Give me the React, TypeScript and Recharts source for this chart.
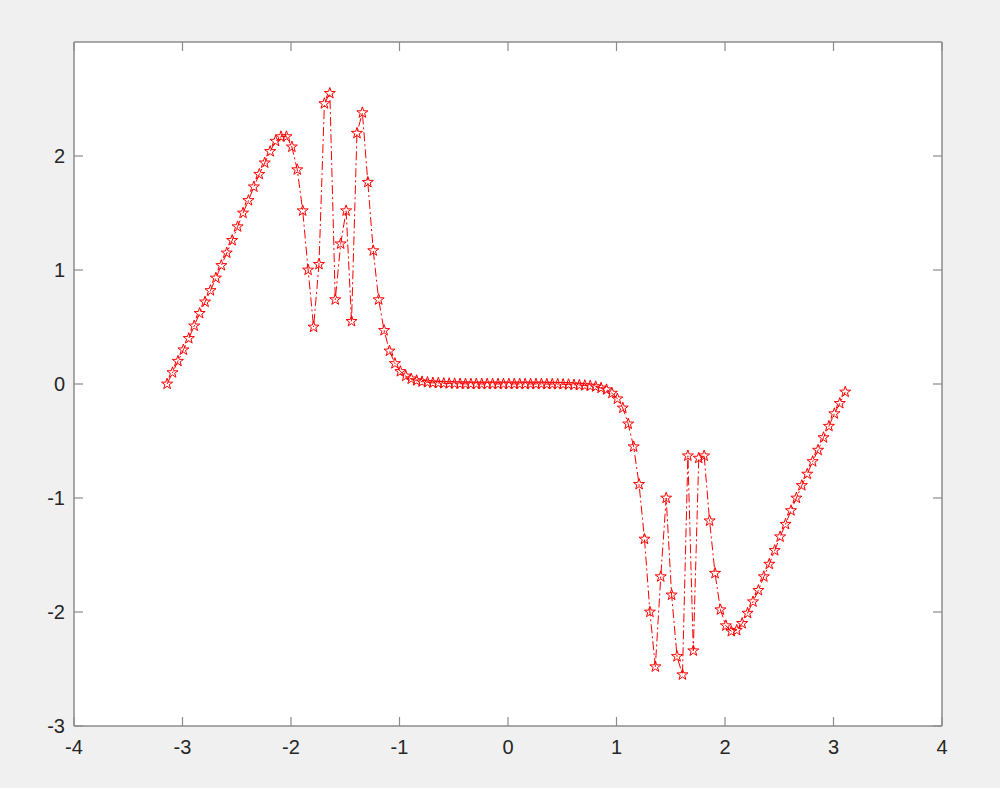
import { LineChart, Line, XAxis, YAxis, CartesianGrid } from "recharts";

// sample positions (x) and measured values (y)
const xs = [
  -3.142, -3.092, -3.042, -2.992, -2.942, -2.892, -2.842, -2.792, -2.742, -2.692,
  -2.642, -2.592, -2.542, -2.492, -2.442, -2.392, -2.342, -2.292, -2.242, -2.192,
  -2.142, -2.092, -2.042, -1.992, -1.942, -1.892, -1.842, -1.792, -1.742, -1.692,
  -1.642, -1.592, -1.542, -1.492, -1.442, -1.392, -1.342, -1.292, -1.242, -1.192,
  -1.142, -1.092, -1.042, -0.992, -0.942, -0.892, -0.842, -0.792, -0.742, -0.692,
  -0.642, -0.592, -0.542, -0.492, -0.442, -0.392, -0.342, -0.292, -0.242, -0.192,
  -0.142, -0.092, -0.042, 0.008, 0.058, 0.108, 0.158, 0.208, 0.258, 0.308,
  0.358, 0.408, 0.458, 0.508, 0.558, 0.608, 0.658, 0.708, 0.758, 0.808,
  0.858, 0.908, 0.958, 1.008, 1.058, 1.108, 1.158, 1.208, 1.258, 1.308,
  1.358, 1.408, 1.458, 1.508, 1.558, 1.608, 1.658, 1.708, 1.758, 1.808,
  1.858, 1.908, 1.958, 2.008, 2.058, 2.108, 2.158, 2.208, 2.258, 2.308,
  2.358, 2.408, 2.458, 2.508, 2.558, 2.608, 2.658, 2.708, 2.758, 2.808,
  2.858, 2.908, 2.958, 3.008, 3.058, 3.108,
];

const ys = [
  0, 0.1, 0.2, 0.3, 0.4, 0.51, 0.62, 0.72, 0.82, 0.93,
  1.04, 1.15, 1.26, 1.38, 1.5, 1.61, 1.73, 1.84, 1.94, 2.04,
  2.13, 2.17, 2.17, 2.08, 1.88, 1.52, 1.0, 0.5, 1.05, 2.46,
  2.55, 0.74, 1.23, 1.52, 0.55, 2.2, 2.38, 1.77, 1.17, 0.74,
  0.47, 0.29, 0.18, 0.11, 0.07, 0.045, 0.03, 0.02, 0.015, 0.01,
  0.008, 0.006, 0.004, 0.003, 0.002, 0.001, 0, 0, 0, 0,
  0, 0, 0, 0, 0, 0, 0, 0, 0, 0,
  -0.001, -0.001, -0.002, -0.003, -0.005, -0.007, -0.01, -0.013, -0.017, -0.023,
  -0.035, -0.05, -0.08, -0.13, -0.21, -0.35, -0.55, -0.88, -1.36, -2.0,
  -2.48, -1.69, -1.0, -1.85, -2.39, -2.55, -0.63, -2.34, -0.65, -0.63,
  -1.2, -1.66, -1.98, -2.12, -2.17, -2.16, -2.1, -2.01, -1.91, -1.81,
  -1.69, -1.58, -1.46, -1.34, -1.23, -1.11, -1.0, -0.89, -0.79, -0.68,
  -0.58, -0.47, -0.37, -0.26, -0.17, -0.07,
];

const xTicks = [-4, -3, -2, -1, 0, 1, 2, 3, 4];
const yTicks = [-3, -2, -1, 0, 1, 2];

const data = xs.map((x, i) => ({ x, y: ys[i] }));

const AXIS = "#8c8c8c";
const TXT = "#262626";

// matlab-style pentagram marker
function Star({ cx, cy }: { cx?: number; cy?: number }) {
  if (cx == null || cy == null) return null;
  const R = 5.8, r = 2.3;
  let d = "";
  for (let i = 0; i < 10; i++) {
    const a = -Math.PI / 2 + (i * Math.PI) / 5;
    const rad = i % 2 === 0 ? R : r;
    d += (i === 0 ? "M" : "L") + (cx + rad * Math.cos(a)).toFixed(2) + "," + (cy + rad * Math.sin(a)).toFixed(2);
  }
  return <path d={d + "Z"} fill="none" stroke="#ff0000" strokeWidth={1} />;
}

const noLabel = () => <g />;

export default function App() {
  const tick = { fill: TXT, fontSize: 20, fontFamily: "Liberation Sans, Arial, sans-serif" };
  const line = { stroke: AXIS, strokeWidth: 1.5 };
  const tl = { stroke: AXIS, strokeWidth: 1.2 };
  return (
    <div style={{ position: "fixed", left: 0, top: 0, width: 1000, height: 788, background: "#f0f0f0" }}>
      <LineChart width={1000} height={788} data={data} margin={{ top: 42, right: 58, bottom: 22, left: 14 }}>
        <CartesianGrid horizontal={false} vertical={false} fill="#ffffff" stroke="none" />
        {/* labelled axes */}
        <XAxis dataKey="x" type="number" domain={[-4, 4]} ticks={xTicks} allowDataOverflow
          height={40} tickSize={0} tickMargin={14} tick={tick} axisLine={line} tickLine={false} />
        <YAxis type="number" domain={[-3, 3]} ticks={yTicks} allowDataOverflow
          width={60} tickSize={0} tickMargin={9} tick={tick} axisLine={line} tickLine={false} />
        {/* inward tick marks + box on all four sides */}
        <XAxis xAxisId="bt" mirror dataKey="x" type="number" domain={[-4, 4]} ticks={xTicks} allowDataOverflow
          tickSize={9} tick={noLabel} axisLine={false} tickLine={tl} />
        <XAxis xAxisId="top" orientation="top" mirror dataKey="x" type="number" domain={[-4, 4]} ticks={xTicks} allowDataOverflow
          tickSize={9} tick={noLabel} axisLine={line} tickLine={tl} />
        <YAxis yAxisId="lt" mirror type="number" domain={[-3, 3]} ticks={yTicks} allowDataOverflow
          tickSize={9} tick={noLabel} axisLine={false} tickLine={tl} />
        <YAxis yAxisId="right" orientation="right" mirror type="number" domain={[-3, 3]} ticks={yTicks} allowDataOverflow
          tickSize={9} tick={noLabel} axisLine={line} tickLine={tl} />
        <Line dataKey="y" type="linear" stroke="#ff0000" strokeWidth={1} strokeDasharray="9 3 2 3"
          dot={(p: any) => <Star key={p.index} cx={p.cx} cy={p.cy} />}
          activeDot={false} isAnimationActive={false} />
      </LineChart>
    </div>
  );
}
